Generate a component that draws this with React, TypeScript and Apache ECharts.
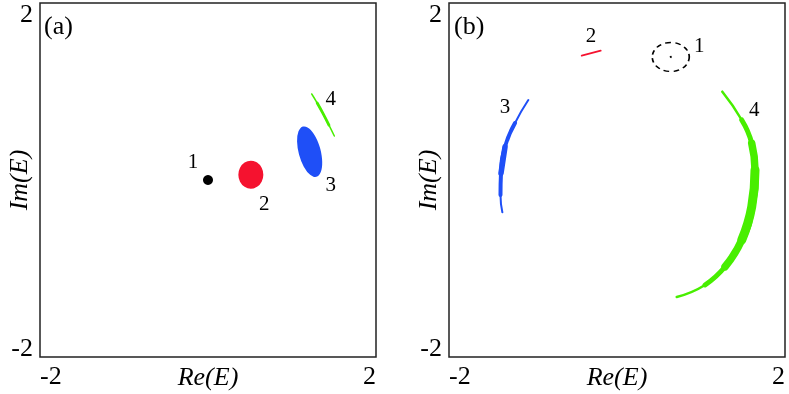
import React, { useEffect, useRef } from "react";
import * as echarts from "echarts";

// axis ticks and labels
const axisMin = -2;
const axisMax = 2;
const tickLabels: Record<string, string> = { "-2": "-2", "2": "2" };
const panelTags = ["(a)", "(b)"];

// panel (a) data
const aPoint1 = [[0.0, 0.0]];
const aBlob2 = [[0.51, 0.06]];
const aBlob3 = [[1.21, 0.32]];
const aCurve4 = [[1.235, 0.972], [1.3, 0.87], [1.37, 0.75], [1.44, 0.62], [1.504, 0.497]];
const aLabels: [string, number, number][] = [
  ["1", -0.18, 0.21],
  ["2", 0.67, -0.26],
  ["3", 1.46, -0.05],
  ["4", 1.46, 0.93],
];

// panel (b) data
const bRing1 = [[0.64, 1.39]];
const bCurve2 = [[-0.42, 1.405], [-0.194, 1.461]];
const bCurve3 = [
  [-1.056, 0.904], [-1.214, 0.644], [-1.333, 0.376], [-1.381, 0.076], [-1.387, -0.169], [-1.365, -0.365],
];
const bCurve4 = [
  [1.254, 0.998], [1.485, 0.678], [1.604, 0.415], [1.643, 0.113], [1.604, -0.302],
  [1.485, -0.678], [1.286, -0.98], [1.048, -1.186], [0.711, -1.322],
];
const bLabels: [string, number, number][] = [
  ["1", 0.98, 1.525],
  ["2", -0.31, 1.638],
  ["3", -1.333, 0.836],
  ["4", 1.635, 0.799],
];

const RED = "#f5122f";
const BLUE = "#1f4ff7";
const GREEN = "#48ee00";
const SERIF = "'Liberation Serif', 'Times New Roman', serif";

export default function App() {
  const ref = useRef<HTMLDivElement>(null);
  useEffect(() => {
    if (!ref.current) return;
    const chart = echarts.init(ref.current, undefined, { renderer: "svg" });
    const fmt = (v: number) => tickLabels[String(v)] ?? "";
    const mkX = (gi: number) => ({
      type: "value",
      gridIndex: gi,
      min: axisMin,
      max: axisMax,
      interval: 2,
      name: "Re(E)",
      nameLocation: "middle",
      nameGap: 6,
      nameMoveOverlap: false,
      nameTextStyle: { fontFamily: SERIF, fontSize: 26, fontStyle: "italic", color: "#000" },
      axisLine: { show: false },
      axisTick: { show: false },
      splitLine: { show: false },
      axisLabel: {
        formatter: fmt,
        fontFamily: SERIF,
        fontSize: 26,
        color: "#000",
        margin: 5,
        alignMinLabel: "left",
        alignMaxLabel: "right",
      },
    });
    const mkY = (gi: number) => ({
      type: "value",
      gridIndex: gi,
      min: axisMin,
      max: axisMax,
      interval: 2,
      name: "Im(E)",
      nameLocation: "middle",
      nameGap: 9,
      nameMoveOverlap: false,
      nameTextStyle: { fontFamily: SERIF, fontSize: 26, fontStyle: "italic", color: "#000" },
      axisLine: { show: false },
      axisTick: { show: false },
      splitLine: { show: false },
      axisLabel: {
        formatter: fmt,
        fontFamily: SERIF,
        fontSize: 26,
        lineHeight: 20,
        color: "#000",
        margin: 7,
        verticalAlignMinLabel: "bottom",
        verticalAlignMaxLabel: "top",
      },
    });
    const labelSeries = (gi: number, labels: [string, number, number][]) => ({
      type: "scatter",
      xAxisIndex: gi,
      yAxisIndex: gi,
      symbolSize: 0,
      silent: true,
      itemStyle: { opacity: 1 },
      data: labels.map(([n, x, y]) => ({ name: n, value: [x, y] })),
      label: {
        show: true,
        position: "inside",
        formatter: (p: any) => p.name,
        fontFamily: SERIF,
        fontSize: 21,
        color: "#000",
        opacity: 1,
        textBorderWidth: 0,
      },
      z: 10,
    });
    const line = (gi: number, data: number[][], color: string, width: number) => ({
      type: "line",
      xAxisIndex: gi,
      yAxisIndex: gi,
      data,
      smooth: true,
      symbol: "none",
      lineStyle: { color, width, cap: "round", opacity: 1 },
    });
    const gridBase = {
      top: 3, width: 336, height: 354, show: true, borderColor: "#222", borderWidth: 1.5,
      backgroundColor: "transparent", outerBoundsMode: "none", containLabel: false,
    };
    chart.setOption({
      animation: false,
      grid: [
        { ...gridBase, left: 40 },
        { ...gridBase, left: 449 },
      ],
      xAxis: [mkX(0), mkX(1)],
      yAxis: [mkY(0), mkY(1)],
      graphic: [
        { type: "text", left: 44, top: 12, style: { text: panelTags[0], font: `26px ${SERIF}`, fill: "#000" } },
        { type: "text", left: 454, top: 12, style: { text: panelTags[1], font: `26px ${SERIF}`, fill: "#000" } },
      ],
      series: [
        // panel (a)
        { type: "scatter", xAxisIndex: 0, yAxisIndex: 0, data: aPoint1, symbolSize: 10, itemStyle: { color: "#000", opacity: 1 } },
        { type: "scatter", xAxisIndex: 0, yAxisIndex: 0, data: aBlob2, symbolSize: [25, 28], itemStyle: { color: RED, opacity: 1 } },
        { type: "scatter", xAxisIndex: 0, yAxisIndex: 0, data: aBlob3, symbolSize: [22, 52], symbolRotate: 15, itemStyle: { color: BLUE, opacity: 1 } },
        line(0, aCurve4, GREEN, 1.5),
        line(0, aCurve4.slice(1, 4), GREEN, 2.8),
        labelSeries(0, aLabels),
        // panel (b)
        {
          type: "scatter", xAxisIndex: 1, yAxisIndex: 1, data: bRing1, symbolSize: [37, 29],
          itemStyle: { color: "rgba(0,0,0,0)", borderColor: "#000", borderWidth: 1.5, borderType: [5, 4], opacity: 1 },
        },
        { type: "scatter", xAxisIndex: 1, yAxisIndex: 1, data: bRing1, symbolSize: 2, itemStyle: { color: "#000", opacity: 1 } },
        line(1, bCurve2, RED, 1.8),
        line(1, bCurve3, BLUE, 2),
        line(1, bCurve3.slice(1, 5), BLUE, 4),
        line(1, bCurve3.slice(2, 4), BLUE, 5.5),
        line(1, bCurve4, GREEN, 2.5),
        line(1, bCurve4.slice(1, 8), GREEN, 5),
        line(1, bCurve4.slice(2, 7), GREEN, 7.5),
        line(1, bCurve4.slice(3, 6), GREEN, 9),
        labelSeries(1, bLabels),
      ],
    });
    return () => chart.dispose();
  }, []);
  return <div ref={ref} style={{ position: "fixed", left: 0, top: 0, width: 789, height: 394 }} />;
}
